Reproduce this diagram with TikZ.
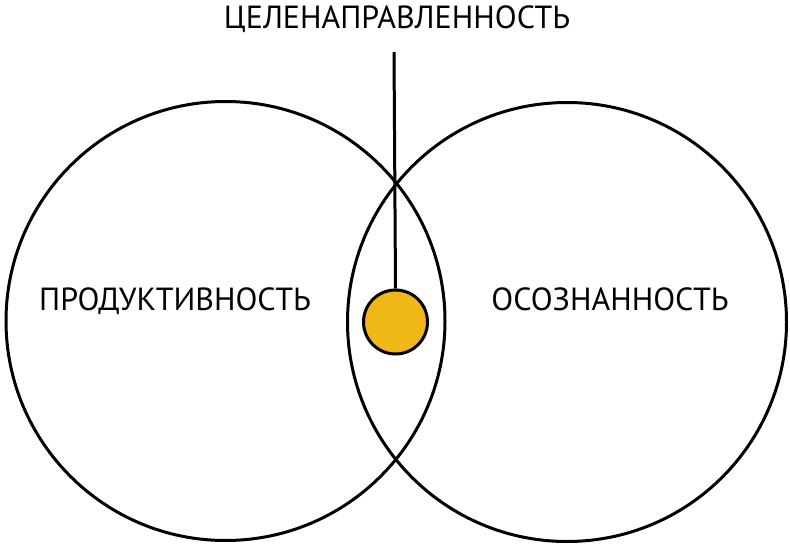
\documentclass[tikz,border=0pt]{standalone}
\usepackage{fontspec}
\setmainfont{PT Sans}
\definecolor{goalyellow}{RGB}{239,184,22}

\begin{document}
\begin{tikzpicture}
  [x=1pt,y=-1pt,
    every node/.style={font=\fontsize{32}{32}\selectfont,inner sep=0pt},
    ring/.style={circle,draw,line width=3pt,minimum size=439pt},
    dot/.style={circle,draw,fill=goalyellow,line width=3pt,minimum size=64pt},
    word/.style={anchor=base},
  ]
  \useasboundingbox (0,0) rectangle (790,546);
  \node[ring] (prod) at (225.5,321) {};
  \node[ring] (osoz) at (567,322) {};
  \node[word] (prodlabel) at (175,310) {ПРОДУКТИВНОСТЬ};
  \node[word] (osozlabel) at (610,310) {ОСОЗНАННОСТЬ};
  \node[word] (goallabel) at (397,28) {ЦЕЛЕНАПРАВЛЕННОСТЬ};
  \node[dot] (goal) at (395.5,322) {};
  \coordinate (top) at (394,52);
  \draw[line width=3pt] (top) -- (goal.north);
\end{tikzpicture}
\end{document}
